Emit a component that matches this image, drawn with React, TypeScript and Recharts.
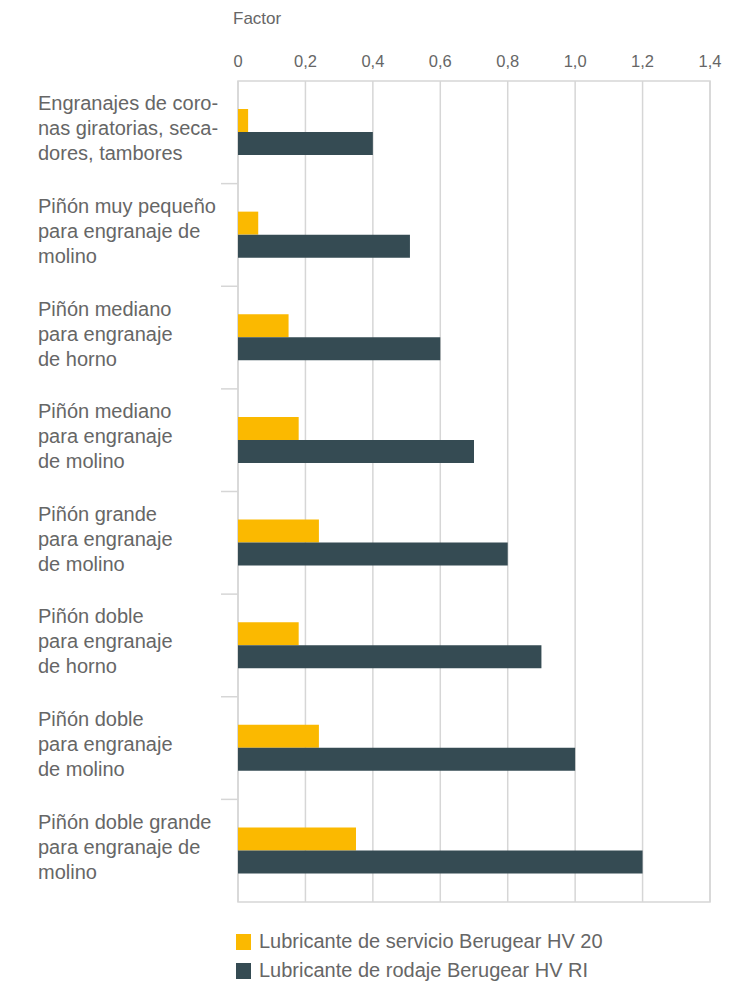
import {
  BarChart,
  Bar,
  XAxis,
  YAxis,
  CartesianGrid,
  ReferenceArea,
} from "recharts";

const categories = [
  "Engranajes de coro-\nnas giratorias, seca-\ndores, tambores",
  "Piñón muy pequeño\npara engranaje de\nmolino",
  "Piñón mediano\npara engranaje\nde horno",
  "Piñón mediano\npara engranaje\nde molino",
  "Piñón grande\npara engranaje\nde molino",
  "Piñón doble\npara engranaje\nde horno",
  "Piñón doble\npara engranaje\nde molino",
  "Piñón doble grande\npara engranaje de\nmolino",
];

const servicio = [0.03, 0.06, 0.15, 0.18, 0.24, 0.18, 0.24, 0.35];
const rodaje = [0.4, 0.51, 0.6, 0.7, 0.8, 0.9, 1.0, 1.2];

const xTicks = [0, 0.2, 0.4, 0.6, 0.8, 1.0, 1.2, 1.4];

const seriesNames = [
  "Lubricante de servicio Berugear HV 20",
  "Lubricante de rodaje Berugear HV RI",
];

const YELLOW = "#fbb900";
const DARK = "#354b53";
const GRID = "#d6d6d6";
const TEXT = "#666666";
const FONT = '"Liberation Sans", Arial, Helvetica, sans-serif';

const data = categories.map((name, i) => ({
  name,
  servicio: servicio[i],
  rodaje: rodaje[i],
}));

const CHART_W = 753;
const CHART_H = 982;
const Y_AXIS_W = 238;
const MARGIN = { top: 51, right: 43, bottom: 80, left: 0 };
const PLOT_H = CHART_H - MARGIN.top - MARGIN.bottom;
const PLOT_LEFT = MARGIN.left + Y_AXIS_W;

function formatTick(v: number) {
  return v === 0 ? "0" : v.toFixed(1).replace(".", ",");
}

interface TickProps {
  y?: number;
  index?: number;
  payload?: { value: string; offset?: number };
}

function CategoryTick({ y = 0, index = 0, payload }: TickProps) {
  const lines = (payload?.value ?? "").split("\n");
  const half = payload?.offset || PLOT_H / categories.length / 2;
  const lineH = 25;
  return (
    <g>
      {index > 0 && (
        <line
          x1={PLOT_LEFT - 17}
          x2={PLOT_LEFT}
          y1={y - half}
          y2={y - half}
          stroke={GRID}
          strokeWidth={1.5}
        />
      )}
      <text x={38} y={y} fill={TEXT} fontSize={20} fontFamily={FONT} textAnchor="start">
        {lines.map((line, i) => (
          <tspan key={i} x={38} y={y + (i - (lines.length - 1) / 2) * lineH + 3}>
            {line}
          </tspan>
        ))}
      </text>
    </g>
  );
}

export default function App() {
  return (
    <div
      style={{
        position: "absolute",
        left: 0,
        top: 0,
        width: CHART_W,
        height: CHART_H,
        background: "#fff",
        fontFamily: FONT,
      }}
    >
      <div style={{ position: "absolute", left: 233, top: 9, fontSize: 17, color: TEXT }}>
        Factor
      </div>
      <BarChart
        width={CHART_W}
        height={CHART_H}
        data={data}
        layout="vertical"
        margin={MARGIN}
        barGap={0}
        barSize={23}
      >
        <CartesianGrid horizontal={false} stroke={GRID} strokeWidth={1.5} />
        <ReferenceArea
          x1={0}
          x2={1.4}
          fill="none"
          stroke={GRID}
          strokeWidth={1.5}
          ifOverflow="visible"
        />
        <XAxis
          type="number"
          orientation="top"
          domain={[0, 1.4]}
          ticks={xTicks}
          tickFormatter={formatTick}
          axisLine={false}
          tickLine={false}
          height={30}
          tickSize={6}
          tickMargin={8}
          tick={{ fontSize: 16.5, fill: TEXT, fontFamily: FONT }}
        />
        <YAxis
          type="category"
          dataKey="name"
          width={Y_AXIS_W}
          axisLine={false}
          tickLine={false}
          interval={0}
          tick={<CategoryTick />}
        />
        <Bar dataKey="servicio" name={seriesNames[0]} fill={YELLOW} isAnimationActive={false} />
        <Bar dataKey="rodaje" name={seriesNames[1]} fill={DARK} isAnimationActive={false} />
      </BarChart>
      <div
        style={{
          position: "absolute",
          left: 236,
          top: 927,
          fontSize: 20,
          color: TEXT,
          lineHeight: "29px",
        }}
      >
        {seriesNames.map((n, i) => (
          <div key={n} style={{ display: "flex", alignItems: "center" }}>
            <span
              style={{
                display: "inline-block",
                width: 15,
                height: 16,
                background: i === 0 ? YELLOW : DARK,
                marginRight: 8,
              }}
            />
            {n}
          </div>
        ))}
      </div>
    </div>
  );
}
